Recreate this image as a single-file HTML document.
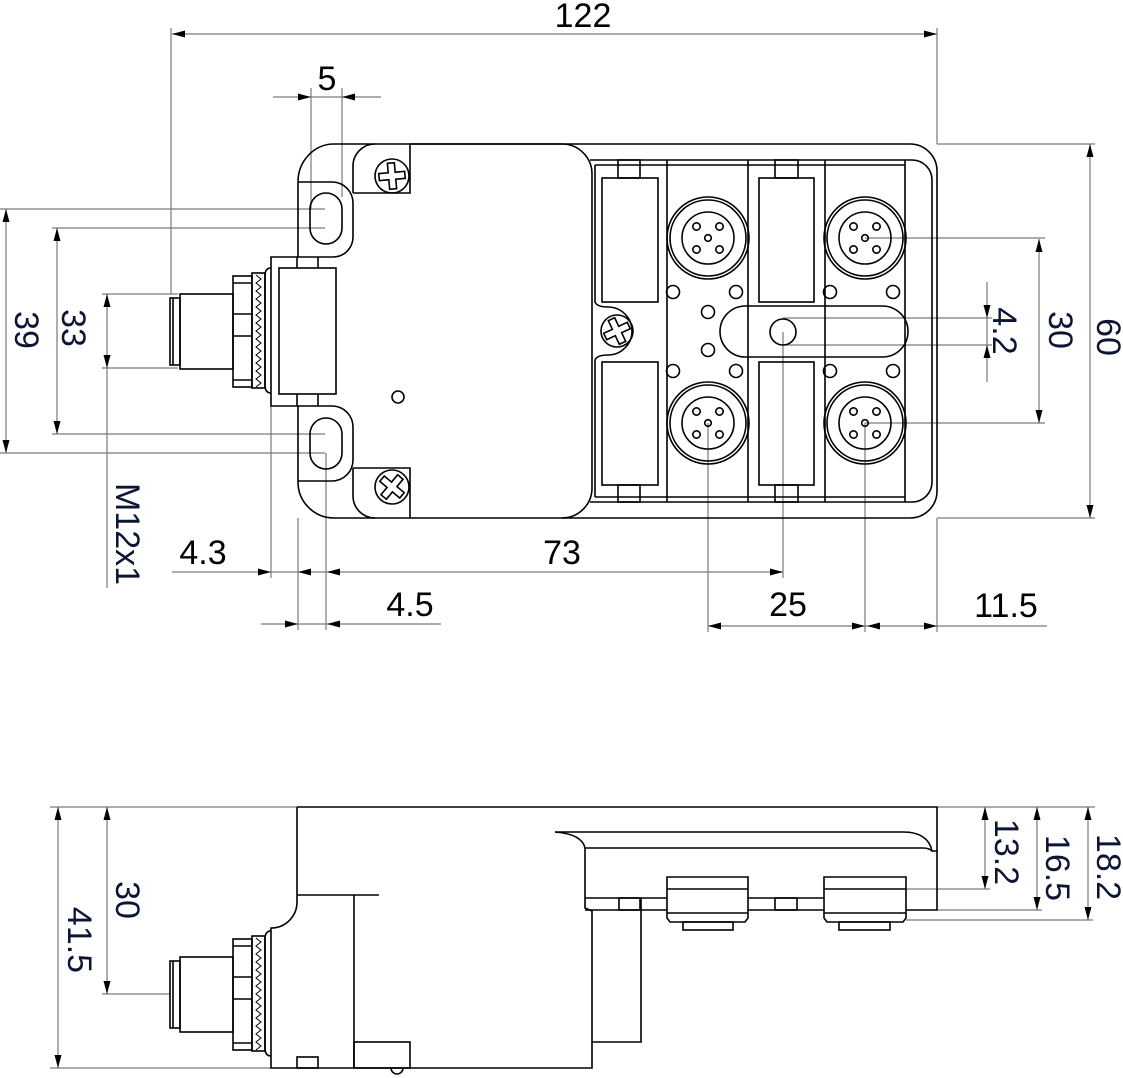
<!DOCTYPE html>
<html><head><meta charset="utf-8"><style>
html,body{margin:0;padding:0;background:#fff;}
svg{display:block;}
text{font-family:"Liberation Sans",Arial,sans-serif;font-size:34px;}
</style></head><body>
<svg width="1123" height="1078" viewBox="0 0 1123 1078" xmlns="http://www.w3.org/2000/svg">
<rect width="1123" height="1078" fill="#fff"/>

<!-- dimension lines -->
<g stroke="#7a7a7a" stroke-width="1.2" fill="none">
<path d="M172,34 H937 M171,28 V294 M937,28 V144"/>
<path d="M273,97 H381 M311,88 V210 M342,88 V197"/>
<path d="M6,209 V453 M0,209 H325 M0,453 H325"/>
<path d="M57,228 V434 M52,228 H325 M52,434 H325"/>
<path d="M107,294 V588 M102,294 H178 M102,368 H178"/>
<path d="M172,572 H783 M271,406 V578 M783,332 V578 M326,453 V630 M298,518 V630"/>
<path d="M261,624 H441"/>
<path d="M708,626 H1047 M708,423 V632 M865,423 V632 M937,518 V632"/>
<path d="M1090,144 V518 M937,144 H1095 M937,518 H1095"/>
<path d="M1039,239 V423 M865,238 H1045 M865,423 H1045"/>
<path d="M987,282 V382 M783,318 H992 M783,345 H992"/>
<path d="M58,807 V1068 M50,807 H297 M50,1068 H271 M107,807 V994 M102,994 H170"/>
<path d="M985,807 V889 M937,807 H1095 M906,889 H990 M1037,807 V910 M937,910 H1042 M1088,807 V920 M906,920 H1093"/>
</g>

<!-- arrowheads -->
<g fill="#000">
<polygon points="172,34 185,30.5 185,37.5"/>
<polygon points="937,34 924,30.5 924,37.5"/>
<polygon points="311,97 298,93.5 298,100.5"/>
<polygon points="342,97 355,93.5 355,100.5"/>
<polygon points="6,209 2.5,222 9.5,222"/>
<polygon points="6,453 2.5,440 9.5,440"/>
<polygon points="57,228 53.5,241 60.5,241"/>
<polygon points="57,434 53.5,421 60.5,421"/>
<polygon points="107,294 103.5,307 110.5,307"/>
<polygon points="107,368 103.5,355 110.5,355"/>
<polygon points="271,572 258,568.5 258,575.5"/>
<polygon points="298,572 311,568.5 311,575.5"/>
<polygon points="327,572 340,568.5 340,575.5"/>
<polygon points="783,572 770,568.5 770,575.5"/>
<polygon points="298,624 285,620.5 285,627.5"/>
<polygon points="327,624 340,620.5 340,627.5"/>
<polygon points="708,626 721,622.5 721,629.5"/>
<polygon points="865,626 852,622.5 852,629.5"/>
<polygon points="867,626 880,622.5 880,629.5"/>
<polygon points="937,626 924,622.5 924,629.5"/>
<polygon points="1090,144 1086.5,157 1093.5,157"/>
<polygon points="1090,518 1086.5,505 1093.5,505"/>
<polygon points="1039,239 1035.5,252 1042.5,252"/>
<polygon points="1039,423 1035.5,410 1042.5,410"/>
<polygon points="987,318 983.5,305 990.5,305"/>
<polygon points="987,345 983.5,358 990.5,358"/>
<polygon points="58,807 54.5,820 61.5,820"/>
<polygon points="58,1068 54.5,1055 61.5,1055"/>
<polygon points="107,807 103.5,820 110.5,820"/>
<polygon points="107,994 103.5,981 110.5,981"/>
<polygon points="985,807 981.5,820 988.5,820"/>
<polygon points="985,889 981.5,876 988.5,876"/>
<polygon points="1037,807 1033.5,820 1040.5,820"/>
<polygon points="1037,910 1033.5,897 1040.5,897"/>
<polygon points="1088,807 1084.5,820 1091.5,820"/>
<polygon points="1088,920 1084.5,907 1091.5,907"/>
</g>

<defs>
<g id="male">
  <rect x="170" y="298" width="10" height="67"/>
  <path d="M173,298 V365"/>
  <rect x="180" y="294" width="53" height="75"/>
  <rect x="233" y="276" width="19" height="111"/>
  <path d="M233,283 H252 M233,314 H252 M233,336 H252 M233,380 H252"/>
  <rect x="252" y="273" width="13" height="115"/>
  <polyline stroke-width="1" points="256,275 261,279 256,283 261,287 256,291 261,295 256,299 261,303 256,307 261,311 256,315 261,319 256,323 261,327 256,331 261,335 256,339 261,343 256,347 261,351 256,355 261,359 256,363 261,367 256,371 261,375 256,379 261,383 256,387"/>
  <path d="M271,268 Q265,268 265,276 V385 Q265,393 271,393"/>
</g>
<path id="cross" d="M-3.5,-13 H3.5 V-3.5 H13 V3.5 H3.5 V13 H-3.5 V3.5 H-13 V-3.5 H-3.5 Z"/>
<g id="fconn">
  <circle r="41"/><circle r="38"/><circle r="26"/>
  <circle cx="-11.5" cy="-11.5" r="3.7"/><circle cx="11.5" cy="-11.5" r="3.7"/>
  <circle cx="-11.5" cy="11.5" r="3.7"/><circle cx="11.5" cy="11.5" r="3.7"/>
  <circle r="3.3"/>
</g>
</defs>

<!-- outlines -->
<g stroke="#000" stroke-width="1.6" fill="none">
<!-- TOP VIEW -->
<path d="M298,182 A36,38 0 0 1 334,144 H910 A27,27 0 0 1 937,171 V491 A27,27 0 0 1 910,518 H334 A36,36 0 0 1 298,482 V406 H271 V257 H298 Z"/>
<path d="M298,182 H332 A21,21 0 0 1 353,203 V237 A20,20 0 0 1 333,257 H298"/>
<path d="M298,481 H332 A21,21 0 0 0 353,460 V427 A21,21 0 0 0 332,406 H298"/>
<rect x="279" y="268" width="57" height="126"/>
<path d="M297,257 V268 M318,257 V268 M297,394 V406 M318,394 V406"/>
<rect x="310" y="193" width="32" height="51" rx="16"/>
<rect x="310" y="418" width="32" height="51" rx="16"/>
<path d="M353,193 V166 A22,22 0 0 1 375,144 M353,193 H410 V144"/>
<path d="M353,468 V496 A22,22 0 0 0 375,518 M353,468 H410 V518"/>
<circle cx="392" cy="176" r="17"/>
<use href="#cross" transform="translate(392,176) rotate(-5)"/>
<circle cx="392" cy="487" r="17"/>
<use href="#cross" transform="translate(392,487) rotate(40)"/>
<path d="M410,144 H562 A30,30 0 0 1 592,174 V488 A30,30 0 0 1 562,518"/>
<circle cx="398" cy="397" r="6"/>
<use href="#male"/>

<!-- module frame -->
<path d="M590,160 H912 A20,20 0 0 1 932,180 V482 A20,20 0 0 1 912,502 H590"/>
<path d="M595,165 H905 M595,497 H905"/>
<path d="M595,165 V302 Q597,307 608,307 A24,24 0 0 1 608,355 Q597,355 595,360 V497"/>
<circle cx="617" cy="331" r="16"/>
<use href="#cross" transform="translate(617,331) rotate(-25)"/>
<path d="M667,160 V502 M748,160 V502 M825,160 V502 M905,160 V502"/>
<rect x="602" y="178" width="56" height="124"/>
<rect x="602" y="362" width="56" height="123"/>
<rect x="759" y="178" width="55" height="124"/>
<rect x="759" y="362" width="55" height="123"/>
<rect x="618" y="160" width="22" height="18"/>
<rect x="775" y="160" width="23" height="18"/>
<rect x="618" y="485" width="22" height="17"/>
<rect x="775" y="485" width="23" height="17"/>
<use href="#fconn" transform="translate(708,238)"/>
<use href="#fconn" transform="translate(865,238)"/>
<use href="#fconn" transform="translate(708,423)"/>
<use href="#fconn" transform="translate(865,423)"/>
<circle cx="673" cy="292" r="6.5"/><circle cx="736" cy="292" r="6.5"/>
<circle cx="830" cy="292" r="6.5"/><circle cx="893" cy="292" r="6.5"/>
<circle cx="673" cy="371" r="6.5"/><circle cx="736" cy="371" r="6.5"/>
<circle cx="830" cy="371" r="6.5"/><circle cx="893" cy="371" r="6.5"/>
<circle cx="708" cy="312" r="6.5"/><circle cx="708" cy="350" r="6.5"/>
<rect x="720" y="306" width="188" height="51" rx="25.5"/>
<circle cx="783" cy="332" r="13"/>

<!-- BOTTOM VIEW -->
<path d="M297,807 H937 V910 H585"/>
<path d="M297,807 V902 A26,26 0 0 1 271,928 V1068 H592 V911 L585,908 V848"/>
<path d="M297,895 H379 M354,895 V1068"/>
<rect x="297" y="1057" width="21" height="11"/>
<rect x="354" y="1042" width="56" height="26"/>
<path d="M391,1068 A6,6 0 0 0 403,1068"/>
<path d="M641,898 V1042 H592"/>
<path d="M585,898 H667 M748,898 H824"/>
<rect x="619" y="898" width="21" height="12"/>
<rect x="775" y="898" width="22" height="12"/>
<path d="M555,832 H903 Q928,832 932,851 H937"/>
<path d="M555,832 Q582,834 585,848 H923 Q929,848 932,851"/>
<g fill="#fff">
<path d="M667,877 H748 V918 L745,922 H670 L667,918 Z"/>
<path d="M824,877 H906 V918 L903,922 H827 L824,918 Z"/>
</g>
<path d="M667,889 H748 M667,913 H748 M824,889 H906 M824,913 H906"/>
<rect x="683" y="922" width="50" height="8"/>
<rect x="839" y="922" width="51" height="8"/>
<use href="#male" transform="translate(0,663)"/>
</g>

<!-- horizontal texts -->
<g fill="#000" text-anchor="middle">
<text x="583" y="27">122</text>
<text x="327" y="90">5</text>
<text x="203" y="564">4.3</text>
<text x="562" y="564">73</text>
<text x="410" y="616">4.5</text>
<text x="788" y="616">25</text>
<text x="1006" y="617">11.5</text>
</g>
<!-- rotated texts -->
<g fill="#0d1535" text-anchor="middle">
<text transform="translate(27,330) rotate(90)" y="12">39</text>
<text transform="translate(74,328) rotate(90)" y="12">33</text>
<text transform="translate(128,534) rotate(90)" y="12">M12x1</text>
<text transform="translate(1109,337) rotate(90)" y="12">60</text>
<text transform="translate(1061,330) rotate(90)" y="12">30</text>
<text transform="translate(1005,331) rotate(90)" y="12">4.2</text>
<text transform="translate(1007,852) rotate(90)" y="12">13.2</text>
<text transform="translate(1058,868) rotate(90)" y="12">16.5</text>
<text transform="translate(1109,867) rotate(90)" y="12">18.2</text>
<text transform="translate(128,900) rotate(90)" y="12">30</text>
<text transform="translate(80,940) rotate(90)" y="12">41.5</text>
</g>
</svg>
</body></html>
